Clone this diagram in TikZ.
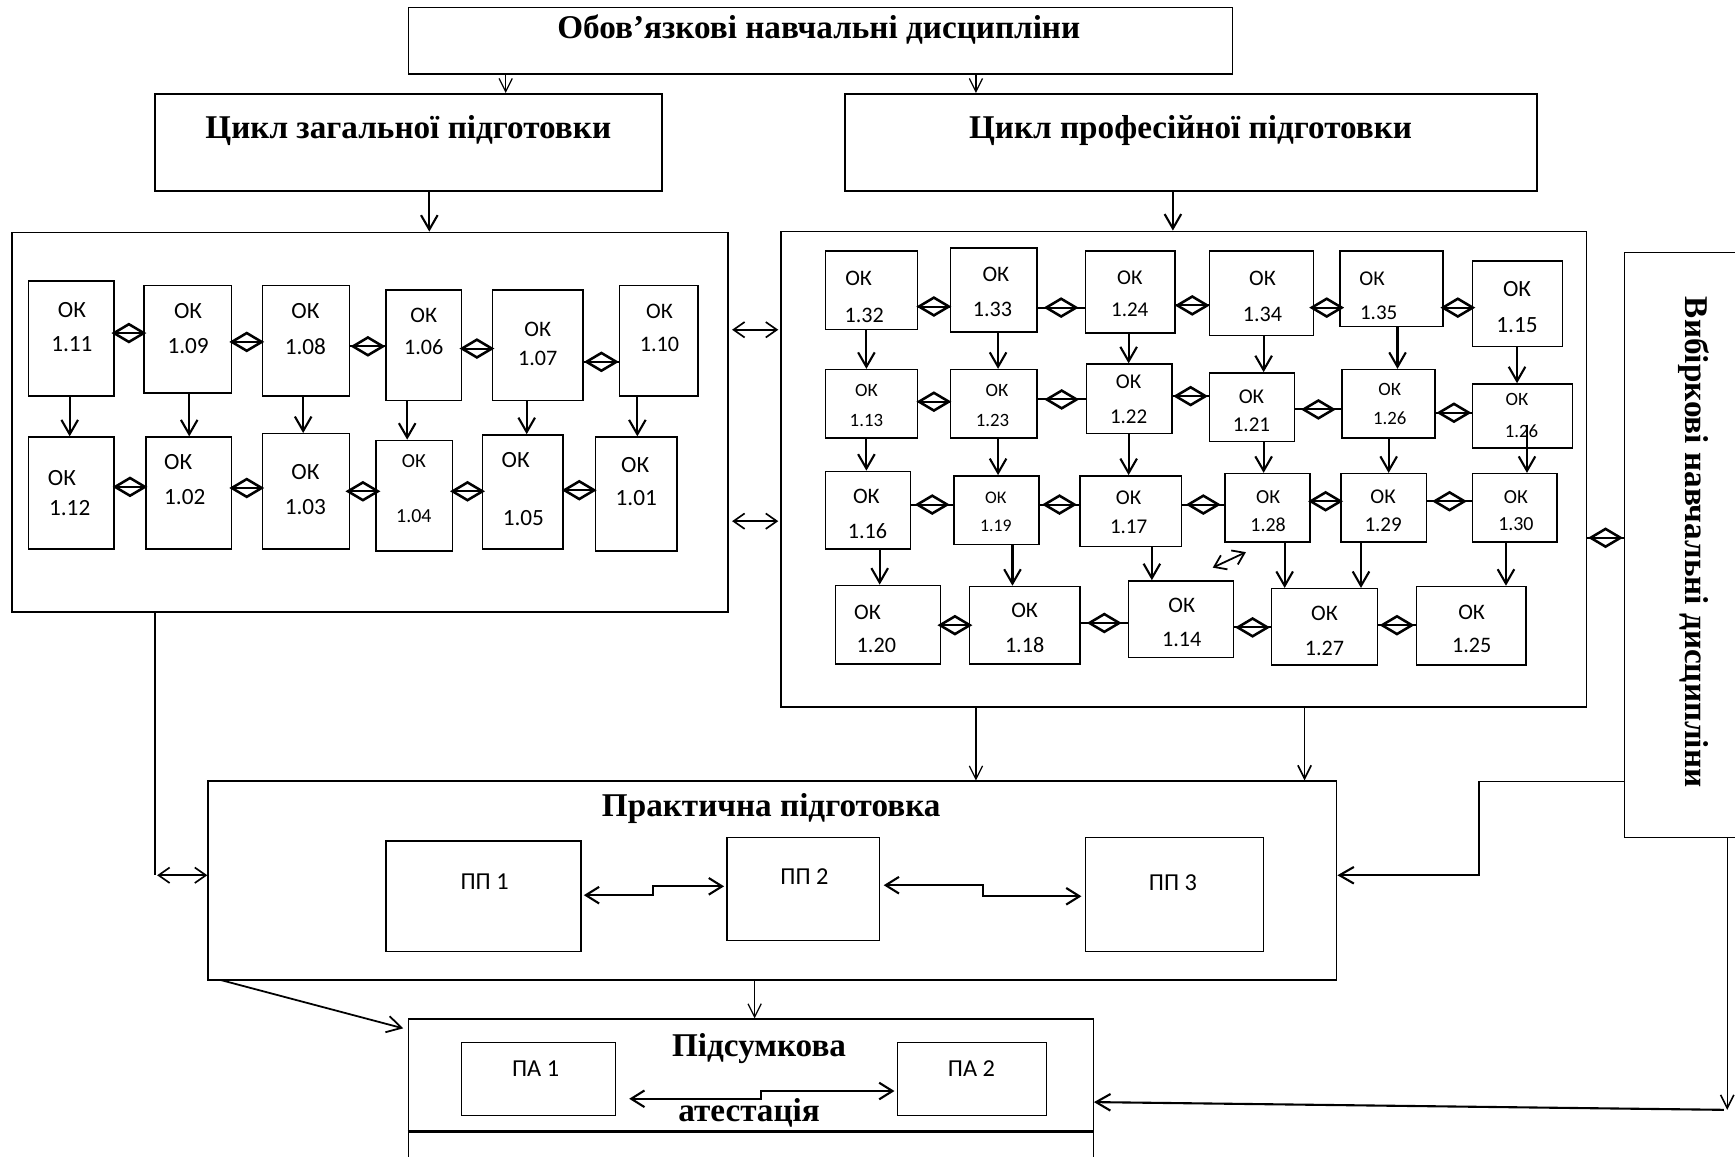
\documentclass[tikz,border=0pt]{standalone}
\usepackage{fontspec}
\setmainfont{Liberation Serif}
\newfontfamily\okf{Carlito}
\usetikzlibrary{arrows.meta,fit,shapes.geometric}
\newcommand\okbox[9]{%
  \node[okb, fit={(#2,#3) (#4,#5)}] (#1) {};
  \node[okt, font=\okf\fontsize{#9}{#9}\selectfont] (#1a) at (#7) {ОК};
  \node[okt, font=\okf\fontsize{#9}{#9}\selectfont] (#1b) at (#8) {#6};
}
\newcommand\vd[3]{\draw[arr] (#1.south -| #3,0) -- (#2.north -| #3,0);}
\newcommand\hd[3]{\draw[dlink] (#1.east |- 0,#3) -- node[dmd]{} (#2.west |- 0,#3);}
\begin{document}
\begin{tikzpicture}[x=1pt,y=-1pt,
  box/.style={draw, line width=1.3pt, inner sep=0pt},
  okb/.style={draw, line width=1.3pt, inner sep=0pt},
  okt/.style={inner sep=0pt},
  ttl/.style={inner sep=0pt, font=\fontsize{30}{32}\selectfont\bfseries},
  ppt/.style={inner sep=0pt, font=\okf\fontsize{22}{24}\selectfont},
  arr/.style={line width=1.9pt, -{Straight Barb[length=13pt,width=15pt]}},
  tarr/.style={line width=1.1pt, -{Straight Barb[length=12pt,width=12pt]}},
  darr/.style={line width=1.5pt, {Straight Barb[length=10pt,width=14pt]}-{Straight Barb[length=10pt,width=14pt]}},
  darrb/.style={line width=1.9pt, {Straight Barb[length=12pt,width=15pt]}-{Straight Barb[length=12pt,width=15pt]}},
  dlink/.style={line width=1.8pt},
  dmd/.style={diamond, draw, line width=2.3pt, minimum width=28pt, minimum height=17pt, inner sep=0pt, aspect=1.7},
]
\useasboundingbox (0,0) rectangle (1568,1045);
\fill[white] (0,0) rectangle (1568,1045);
\clip (0,0) rectangle (1568,1045);

% header boxes
\node[box, fit={(369,7) (1114,67)}] (top) {};
\node[ttl] (toptx) at (740,27) {Обов’язкові навчальні дисципліни};
\node[box, line width=1.8pt, fit={(140,85) (598,173)}] (tz) {};
\node[ttl] (tztx) at (369,118) {Цикл загальної підготовки};
\node[box, line width=1.8pt, fit={(764,85) (1389,173)}] (tp) {};
\node[ttl] (tptx) at (1076,118) {Цикл професійної підготовки};

% containers
\node[box, fit={(11,210) (658,553)}] (lc) {};
\node[box, fit={(706,209) (1434,639)}] (rc) {};
\node[box, fit={(1468,228) (1610,757)}] (vb) {};
\node[ttl, rotate=-90] (vbtx) at (1531,490) {Вибіркові навчальні дисципліни};

% left OK boxes
\okbox{k111}{26}{254}{103}{358}{1.11}{65,280}{65,311}{21}
\okbox{k109}{130}{258}{209}{355}{1.09}{170,281}{170,313}{21}
\okbox{k108}{237}{258}{316}{358}{1.08}{276,281}{276,313}{21}
\okbox{k106}{349}{262}{417}{362}{1.06}{383,285}{383,314}{20}
\okbox{k107}{445}{262}{527}{362}{1.07}{486,298}{486,324}{20}
\okbox{k110}{560}{258}{631}{358}{1.10}{596,281}{596,311}{20}
\okbox{k112}{26}{395}{103}{496}{1.12}{56,432}{63,459}{21}
\okbox{k102}{132}{395}{209}{496}{1.02}{161,418}{167,449}{21}
\okbox{k103}{237}{392}{316}{496}{1.03}{276,427}{276,458}{21}
\okbox{k104}{340}{398}{409}{498}{1.04}{374,417}{374,466}{18}
\okbox{k105}{436}{393}{509}{496}{1.05}{466,416}{473,468}{21}
\okbox{k101}{538}{395}{612}{498}{1.01}{574,420}{575,450}{21}

% right OK boxes
\okbox{k132}{746}{227}{829}{298}{1.32}{776,252}{781,285}{20}
\okbox{k133}{859}{224}{937}{300}{1.33}{900,248}{897,280}{20}
\okbox{k124}{981}{227}{1062}{301}{1.24}{1021,251}{1021,280}{19}
\okbox{k134}{1093}{227}{1187}{303}{1.34}{1141,252}{1141,284}{20}
\okbox{k135}{1211}{227}{1304}{295}{1.35}{1240,252}{1246,283}{19}
\okbox{k115}{1331}{236}{1412}{313}{1.15}{1371,261}{1371,294}{21}
\okbox{k113}{746}{334}{829}{396}{1.13}{783,353}{783,380}{17}
\okbox{k123}{859}{334}{937}{396}{1.23}{901,353}{897,380}{17}
\okbox{k122}{982}{329}{1059}{392}{1.22}{1020,345}{1020,377}{19}
\okbox{k121}{1093}{337}{1170}{399}{1.21}{1131,359}{1131,384}{19}
\okbox{k126}{1213}{334}{1297}{396}{1.26}{1256,352}{1256,378}{17}
\okbox{k126b}{1331}{347}{1421}{405}{1.26}{1371,361}{1375,390}{17}
\okbox{k116}{746}{426}{823}{496}{1.16}{783,449}{784,480}{20}
\okbox{k119}{862}{430}{939}{492}{1.19}{900,450}{900,475}{16}
\okbox{k117}{976}{430}{1068}{494}{1.17}{1020,450}{1020,476}{19}
\okbox{k128}{1107}{428}{1184}{490}{1.28}{1146,449}{1146,474}{18}
\okbox{k129}{1212}{428}{1289}{490}{1.29}{1250,449}{1250,474}{19}
\okbox{k130}{1331}{428}{1407}{490}{1.30}{1370,449}{1370,474}{18}
\okbox{k120}{755}{529}{850}{600}{1.20}{784,553}{792,583}{20}
\okbox{k118}{876}{530}{976}{600}{1.18}{926,552}{926,583}{20}
\okbox{k114}{1020}{525}{1115}{594}{1.14}{1068,547}{1068,578}{20}
\okbox{k127}{1149}{532}{1245}{601}{1.27}{1197,554}{1197,586}{20}
\okbox{k125}{1280}{530}{1379}{601}{1.25}{1330,553}{1330,583}{20}

% practical training
\node[box, fit={(188,706) (1208,885)}] (pr) {};
\draw[line width=2.2pt] (pr.south west) -- (pr.south east);
\node[ttl] (prtx) at (697,731) {Практична підготовка};
\node[box, fit={(349,760) (525,860)}] (pp1) {};
\node[ppt] (pp1t) at (438,797) {ПП 1};
\node[box, fit={(657,757) (795,850)}] (pp2) {};
\node[ppt] (pp2t) at (727,792) {ПП 2};
\node[box, fit={(981,757) (1142,860)}] (pp3) {};
\node[ppt] (pp3t) at (1060,798) {ПП 3};

% final attestation
\node[box, fit={(369,921) (988,1022)}] (pa) {};
\node[box, fit={(369,1022) (988,1080)}] (pab) {};
\draw[line width=2.4pt] (pa.south west) -- (pa.south east);
\node[ttl] (patx1) at (686,948) {Підсумкова};
\node[ttl] (patx2) at (677,1006) {атестація};
\node[box, fit={(417,942) (556,1008)}] (pa1) {};
\node[ppt] (pa1t) at (484,966) {ПА 1};
\node[box, fit={(811,942) (946,1008)}] (pa2) {};
\node[ppt] (pa2t) at (878,966) {ПА 2};

% top connectors
\draw[tarr] (top.south -| 457,0) -- (tz.north -| 457,0);
\draw[tarr] (top.south -| 882,0) -- (tp.north -| 882,0);
\draw[arr] (tz.south -| 388,0) -- (lc.north -| 388,0);
\draw[arr] (tp.south -| 1060,0) -- (rc.north -| 1060,0);
\draw[darr, shorten <=3pt, shorten >=2pt] (lc.east |- 0,298) -- (rc.west |- 0,298);
\draw[darr, shorten <=3pt, shorten >=2pt] (lc.east |- 0,471) -- (rc.west |- 0,471);
\hd{rc}{vb}{486}

% left container links
\hd{k111}{k109}{301}
\hd{k109}{k108}{309}
\hd{k108}{k106}{313}
\hd{k106}{k107}{315}
\hd{k107}{k110}{327}
\hd{k112}{k102}{440}
\hd{k102}{k103}{441}
\hd{k103}{k104}{444}
\hd{k104}{k105}{444}
\hd{k105}{k101}{443}
\vd{k111}{k112}{63}
\vd{k109}{k102}{171}
\vd{k108}{k103}{274}
\vd{k106}{k104}{368}
\vd{k107}{k105}{476}
\vd{k110}{k101}{576}

% right container links
\hd{k132}{k133}{277}
\hd{k133}{k124}{278}
\hd{k124}{k134}{276}
\hd{k134}{k135}{278}
\hd{k135}{k115}{278}
\hd{k113}{k123}{363}
\hd{k123}{k122}{361}
\hd{k122}{k121}{358}
\hd{k121}{k126}{370}
\hd{k126}{k126b}{373}
\hd{k116}{k119}{456}
\hd{k119}{k117}{456}
\hd{k117}{k128}{456}
\hd{k128}{k129}{453}
\hd{k129}{k130}{453}
\hd{k120}{k118}{565}
\hd{k118}{k114}{563}
\hd{k114}{k127}{567}
\hd{k127}{k125}{565}
\vd{k132}{k113}{783}
\vd{k133}{k123}{902}
\vd{k124}{k122}{1020}
\vd{k134}{k121}{1142}
\vd{k135}{k126}{1263}
\vd{k115}{k126b}{1371}
\vd{k113}{k116}{783}
\vd{k123}{k119}{902}
\vd{k122}{k117}{1020}
\vd{k121}{k128}{1142}
\vd{k126}{k129}{1255}
\draw[arr] ([yshift=-8pt]k126b.center -| 1380,0) -- (k130.north -| 1380,0);
\vd{k116}{k120}{795}
\vd{k119}{k118}{915}
\vd{k117}{k114}{1041}
\vd{k128}{k127}{1161}
\vd{k129}{k127}{1230}
\vd{k130}{k125}{1361}
\coordinate (sd1) at (1096,513);
\coordinate (sd2) at (1126,499);
\draw[darr, line width=1.6pt] (sd1) -- (sd2);

% lower connectors
\draw[line width=1.2pt] (lc.south -| 140,0) -- (140,791) coordinate (lcend);
\draw[darr] ([xshift=2pt]lcend) -- (pr.west |- lcend);
\draw[tarr] (rc.south -| 882,0) -- (pr.north -| 882,0);
\draw[tarr, line width=1.5pt] (rc.south -| 1179,0) -- (pr.north -| 1179,0);
\draw[line width=1.2pt] (vb.west |- 0,706) -- (1337,706);
\draw[arr] (1337,706) -- (1337,791) -- (pr.east |- 0,791);
\draw[tarr, line width=1.4pt] (vb.south -| 1561,0) -- (1561,1003) coordinate (vbend);
\draw[arr] ([xshift=-3pt]vbend) -- (pa.east |- 0,996);
\draw[tarr] (pr.south -| 682,0) -- (pa.north -| 682,0);
\draw[arr, line width=1.6pt] ([xshift=12pt]pr.south west) -- ([xshift=-4pt,yshift=-9pt]pa.north west);
\draw[darrb, shorten <=2pt, shorten >=2pt] (pp1.east |- 0,809) -- (590,809) -- (590,801) -- (pp2.west |- 0,801);
\draw[darrb, shorten <=3pt, shorten >=3pt] (pp2.east |- 0,800) -- (888,800) -- (888,810) -- (pp3.west |- 0,810);
\draw[darrb, shorten <=12pt, shorten >=2pt] (pa1.east |- 0,993) -- (688,993) -- (688,986) -- (pa2.west |- 0,986);
\end{tikzpicture}
\end{document}
